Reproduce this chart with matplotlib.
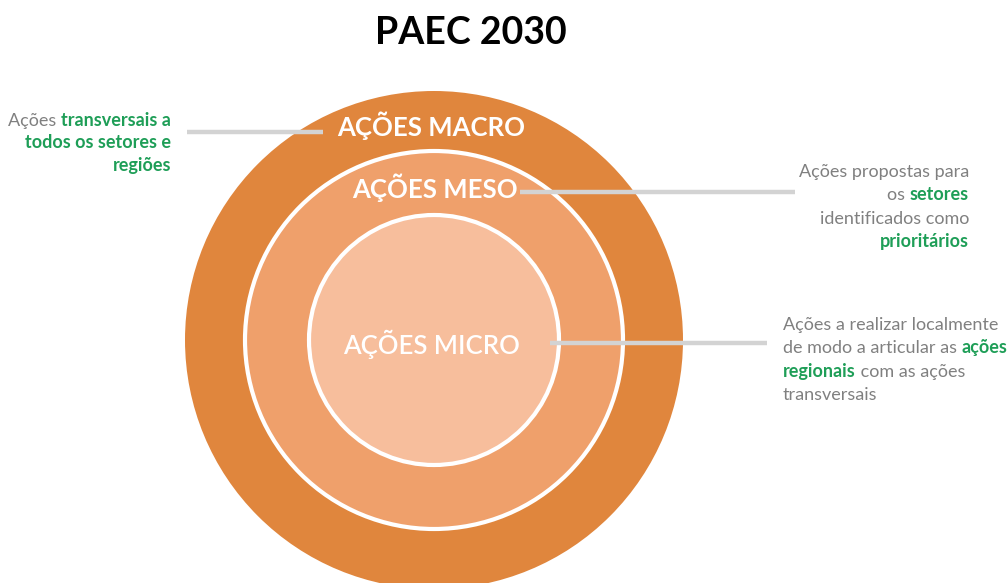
import matplotlib
matplotlib.use("Agg")
import matplotlib.pyplot as plt
from matplotlib.patches import Circle

# rings of the diagram (outer to inner)
ring_names = ["AÇÕES MACRO", "AÇÕES MESO", "AÇÕES MICRO"]
ring_radius = [249, 189, 125]
ring_colors = ["#E0863D", "#EFA06B", "#F7BE9C"]

title = "PAEC 2030"

# side notes: each line is a list of (text, highlighted)
note_macro = [
    [("Ações ", False), ("transversais a", True)],
    [("todos os setores e", True)],
    [("regiões", True)],
]
note_meso = [
    [("Ações propostas para", False)],
    [("os ", False), ("setores", True)],
    [("identificados como", False)],
    [("prioritários", True)],
]
note_micro = [
    [("Ações a realizar localmente", False)],
    [("de modo a articular as ", False), ("ações", True)],
    [("regionais", True), (" com as ações", False)],
    [("transversais", False)],
]

GREEN = "#1E9E57"
GRAY = "#808080"
LINE = "#D3D3D3"
FONT = "Lato"

W, H = 1008, 583
fig = plt.figure(figsize=(W / 100, H / 100), dpi=100)
ax = fig.add_axes([0, 0, 1, 1])
ax.set_xlim(0, W)
ax.set_ylim(H, 0)
ax.axis("off")

cx, cy = 434, 340
for i, (r, c) in enumerate(zip(ring_radius, ring_colors)):
    ec = "none" if i == 0 else "white"
    ax.add_patch(Circle((cx, cy), r, facecolor=c, edgecolor=ec, linewidth=3, zorder=1 + i))

# leader lines
ax.plot([187, 323], [132, 132], color=LINE, lw=3.2, solid_capstyle="butt", zorder=5)
ax.plot([520, 795], [192, 192], color=LINE, lw=3.2, solid_capstyle="butt", zorder=5)
ax.plot([550, 767], [343, 343], color=LINE, lw=3.2, solid_capstyle="butt", zorder=5)

ax.text(471, 44, title, fontsize=27, fontweight="bold", family=FONT,
        ha="center", va="baseline", color="black")

ax.text(431, 136, ring_names[0], fontsize=18.5, fontweight="bold", family=FONT,
        ha="center", va="baseline", color="white", zorder=6)
ax.text(435, 198, ring_names[1], fontsize=18.5, fontweight="bold", family=FONT,
        ha="center", va="baseline", color="white", zorder=6)
ax.text(431, 354, ring_names[2], fontsize=18.5, fontweight="semibold", family=FONT,
        ha="center", va="baseline", color="white", zorder=6)

renderer = fig.canvas.get_renderer()


def draw_note(lines, x, y0, step, align, size=13):
    for k, segs in enumerate(lines):
        y = y0 + k * step
        items = []
        for txt, hi in segs:
            t = ax.text(0, y, txt, fontsize=size, family=FONT,
                        fontweight="bold" if hi else "normal",
                        color=GREEN if hi else GRAY, va="baseline", ha="left")
            w = t.get_window_extent(renderer).width
            items.append((t, w))
        total = sum(w for _, w in items)
        pos = x - total if align == "right" else x
        for t, w in items:
            t.set_x(pos)
            pos += w


draw_note(note_macro, 171, 126, 22.5, "right")
draw_note(note_meso, 969, 177, 23.3, "right")
draw_note(note_micro, 783, 330, 23.3, "left")

fig.savefig("out.png", dpi=100)
